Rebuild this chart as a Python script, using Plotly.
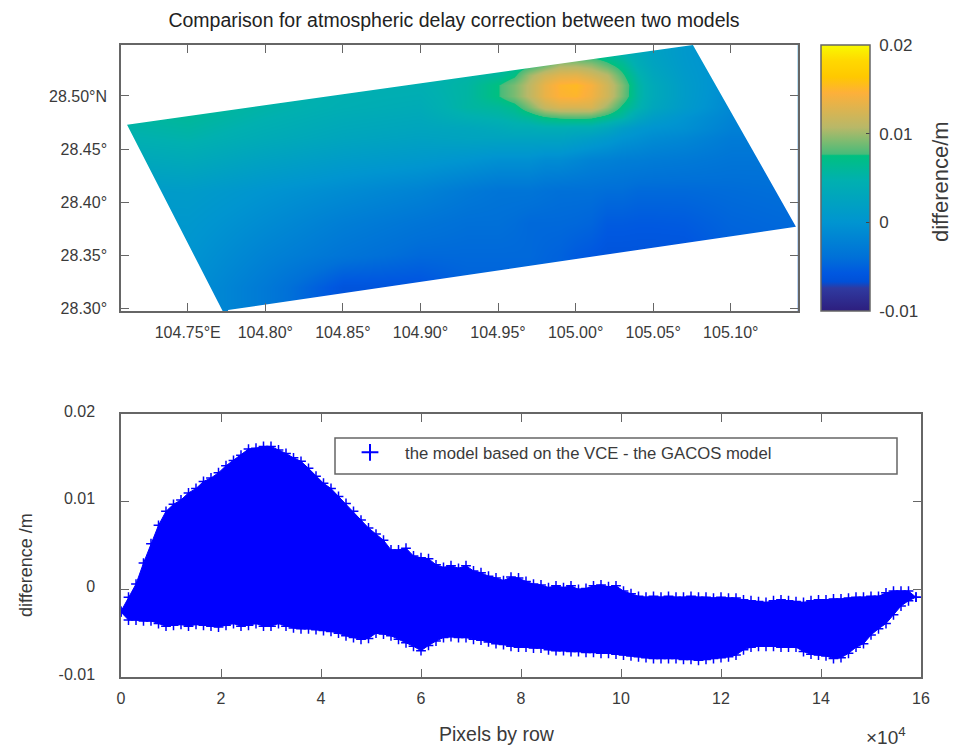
import numpy as np
import plotly.graph_objects as go

W, H = 953, 749

# ---- top panel: gridded difference (mm) ----
lon_grid = [104.70, 104.75, 104.80, 104.85, 104.90,
            104.93, 104.95, 104.96, 104.97, 104.98, 104.99, 105.00, 105.01, 105.02, 105.03, 105.04, 105.05, 105.07,
            105.10, 105.15]
lat_grid = [28.29, 28.32, 28.35, 28.38, 28.41, 28.44, 28.46, 28.47, 28.48, 28.49, 28.50, 28.51, 28.52, 28.53, 28.54, 28.55]
diff_mm = [
    [-0.5, -0.5, -3.0, -6.5, -6.5, -6.0, -6.0, -6.0, -6.0, -6.0, -6.0, -6.0, -6.0, -6.0, -6.0, -6.0, -6.0, -6.0, -6.0, -6.0],
    [-0.5, -0.5, -3.0, -6.2, -6.2, -5.0, -5.0, -5.0, -5.0, -5.0, -5.0, -5.0, -5.0, -5.0, -5.0, -5.0, -5.0, -5.0, -5.0, -5.0],
    [0.0, 0.0, -2.0, -3.5, -4.5, -4.5, -4.5, -4.5, -4.5, -4.8, -5.0, -5.5, -5.8, -6.2, -6.2, -6.2, -6.2, -6.2, -5.2, -4.8],
    [0.5, 0.5, -1.0, -2.5, -3.5, -4.0, -4.0, -4.2, -4.5, -4.5, -4.5, -4.6, -4.8, -5.5, -5.5, -5.6, -5.6, -5.5, -4.8, -4.4],
    [1.0, 1.2, 0.0, -1.0, -2.0, -3.0, -3.5, -3.5, -3.5, -3.8, -4.0, -4.0, -4.0, -4.2, -4.2, -4.5, -4.5, -4.5, -4.3, -4.0],
    [3.0, 3.5, 2.2, 1.2, 0.6, 0.0, -0.5, -0.5, -0.5, -1.0, -1.0, -1.5, -2.0, -2.2, -2.5, -2.6, -2.8, -3.0, -3.5, -3.5],
    [4.5, 5.0, 3.8, 2.8, 2.2, 2.5, 2.5, 2.5, 2.5, 2.5, 2.5, 2.0, 1.5, 0.8, 0.0, -0.5, -1.0, -1.5, -2.8, -2.8],
    [5.0, 5.5, 4.3, 3.3, 2.8, 3.0, 3.5, 4.0, 4.0, 4.2, 4.2, 4.0, 4.0, 3.0, 1.5, 0.5, 0.0, -0.5, -2.2, -2.2],
    [5.5, 6.0, 4.8, 3.8, 3.3, 4.5, 5.0, 5.5, 6.2, 7.5, 8.0, 8.2, 8.0, 6.8, 5.5, 3.0, 1.5, 0.0, -1.8, -1.8],
    [6.0, 6.2, 5.2, 4.3, 3.8, 5.5, 6.0, 6.8, 9.0, 11.5, 12.5, 12.5, 12.5, 10.0, 7.2, 5.0, 3.0, 1.0, -1.4, -1.4],
    [6.0, 6.3, 5.2, 4.5, 4.2, 5.5, 7.5, 9.0, 11.0, 13.5, 14.8, 15.0, 14.0, 12.0, 9.0, 5.5, 3.5, 1.2, -1.2, -1.2],
    [6.0, 6.3, 5.2, 4.5, 4.5, 5.5, 7.5, 9.0, 11.0, 13.5, 15.0, 15.3, 14.3, 12.0, 9.2, 5.5, 3.5, 1.2, -1.0, -1.0],
    [6.0, 6.3, 5.2, 4.5, 4.5, 5.2, 6.0, 7.2, 10.0, 12.0, 13.0, 13.2, 12.2, 10.8, 8.0, 5.0, 3.0, 1.0, -0.8, -0.8],
    [6.0, 6.3, 5.2, 4.5, 4.5, 4.8, 5.2, 6.0, 6.8, 8.3, 10.0, 10.0, 9.5, 8.0, 6.5, 4.0, 2.5, 0.8, -0.8, -0.8],
    [6.0, 6.3, 5.2, 4.5, 4.5, 4.8, 5.0, 5.5, 6.0, 6.5, 6.8, 6.8, 6.5, 6.0, 5.0, 3.5, 2.2, 0.7, -0.8, -0.8],
    [6.0, 6.3, 5.2, 4.5, 4.5, 4.8, 5.0, 5.5, 6.0, 6.5, 6.8, 6.8, 6.5, 6.0, 5.0, 3.5, 2.2, 0.7, -0.8, -0.8],
]
# swath corners (lon, lat): left, top, right, bottom
swath_lon = [104.7109, 105.0756, 105.1420, 104.7760]
swath_lat = [28.4729, 28.5481, 28.3767, 28.2981]

lon_ticks = [104.75, 104.80, 104.85, 104.90, 104.95, 105.00, 105.05, 105.10]
lon_labels = ["104.75°E", "104.80°", "104.85°", "104.90°", "104.95°", "105.00°", "105.05°", "105.10°"]
lat_ticks = [28.30, 28.35, 28.40, 28.45, 28.50]
lat_labels = ["28.30°", "28.35°", "28.40°", "28.45°", "28.50°N"]
cbar_ticks = [-0.01, 0, 0.01, 0.02]
cbar_labels = ["-0.01", "0", "0.01", "0.02"]

# ---- bottom panel: envelope of the row-by-row differences ----
row_1e4 = [
    0.00, 0.15, 0.30, 0.45, 0.60, 0.75, 0.90, 1.05, 1.20, 1.35,
    1.50, 1.65, 1.80, 1.95, 2.10, 2.25, 2.40, 2.55, 2.70, 2.85,
    3.00, 3.15, 3.30, 3.45, 3.60, 3.75, 3.90, 4.05, 4.20, 4.35,
    4.50, 4.65, 4.80, 4.95, 5.10, 5.25, 5.40, 5.55, 5.70, 5.85,
    6.00, 6.15, 6.30, 6.45, 6.60, 6.75, 6.90, 7.05, 7.20, 7.35,
    7.50, 7.65, 7.80, 7.95, 8.10, 8.25, 8.40, 8.55, 8.70, 8.85,
    9.00, 9.15, 9.30, 9.45, 9.60, 9.75, 9.90, 10.05, 10.20, 10.35,
    10.50, 10.65, 10.80, 10.95, 11.10, 11.25, 11.40, 11.55, 11.70, 11.85,
    12.00, 12.15, 12.30, 12.45, 12.60, 12.75, 12.90, 13.05, 13.20, 13.35,
    13.50, 13.65, 13.80, 13.95, 14.10, 14.25, 14.40, 14.55, 14.70, 14.85,
    15.00, 15.15, 15.30, 15.45, 15.60, 15.75, 15.90,
]
upper_mm = [
    -2.5, -0.9, 0.6, 3.0, 5.2, 7.3, 8.9, 9.7, 10.2, 11.0,
    11.5, 12.3, 12.7, 13.3, 14.1, 14.7, 15.3, 16.0, 16.1, 16.3,
    16.3, 15.9, 15.5, 15.0, 14.6, 13.8, 12.9, 12.1, 11.5, 10.6,
    9.8, 8.9, 7.9, 7.0, 6.3, 5.6, 4.5, 4.5, 4.7, 3.8,
    3.6, 3.5, 2.8, 2.5, 2.7, 2.4, 2.7, 2.1, 1.9, 1.5,
    1.3, 1.0, 1.4, 1.3, 0.9, 0.6, 0.5, 0.2, 0.4, 0.2,
    0.4, 0.0, 0.1, 0.4, 0.5, 0.3, 0.4, -0.2, -0.5, -0.8,
    -0.9, -0.8, -0.9, -0.8, -0.9, -0.9, -0.8, -0.9, -0.9, -1.0,
    -0.9, -1.0, -1.0, -1.2, -1.3, -1.4, -1.5, -1.3, -1.2, -1.3,
    -1.4, -1.5, -1.3, -1.2, -1.2, -1.1, -1.1, -1.0, -0.9, -0.9,
    -0.8, -0.8, -0.4, -0.2, -0.2, -0.2, -0.9,
]
lower_mm = [
    -2.6, -3.5, -3.5, -3.6, -3.6, -3.9, -4.2, -4.1, -4.0, -4.2,
    -4.0, -4.1, -4.2, -4.3, -4.1, -3.9, -4.2, -4.1, -3.9, -4.2,
    -4.2, -3.9, -4.2, -4.4, -4.5, -4.5, -4.6, -4.7, -4.8, -5.0,
    -5.3, -5.5, -5.7, -5.6, -5.0, -5.1, -5.3, -5.7, -6.1, -6.5,
    -7.0, -6.4, -5.9, -5.5, -5.4, -5.5, -5.5, -5.7, -5.8, -6.0,
    -6.2, -6.3, -6.5, -6.6, -6.6, -6.7, -6.7, -6.9, -7.0, -7.0,
    -7.1, -7.1, -7.2, -7.2, -7.3, -7.3, -7.4, -7.5, -7.6, -7.7,
    -7.8, -7.9, -7.9, -7.9, -7.9, -8.0, -8.0, -8.1, -8.0, -7.9,
    -7.8, -7.7, -7.5, -6.9, -6.6, -6.5, -6.5, -6.5, -6.6, -6.6,
    -6.6, -7.1, -7.4, -7.5, -7.6, -7.9, -7.8, -7.3, -6.6, -6.2,
    -5.2, -4.5, -3.9, -2.9, -1.9, -1.3, -0.9,
]
row_ticks = [0, 2, 4, 6, 8, 10, 12, 14, 16]
row_labels = ["0", "2", "4", "6", "8", "10", "12", "14", "16"]
diff_ticks = [-0.01, 0, 0.01, 0.02]
diff_labels = ["-0.01", "0", "0.01", "0.02"]

LEGEND_NAME = "the model based on the VCE - the GACOS model"

COLORSCALE = [
    [0.00, "#2d1e7e"], [0.086, "#2f3aa0"], [0.11, "#0050d8"], [0.143, "#0058e0"],
    [0.20, "#0070d8"], [0.335, "#0095d0"], [0.49, "#00b0b0"], [0.584, "#00c080"],
    [0.59, "#48bb7a"], [0.64, "#80bb70"], [0.69, "#b8b868"], [0.82, "#fdb03a"],
    [0.88, "#ffc800"], [0.94, "#ffd800"], [1.00, "#f8fa00"],
]
FRAME = "#666666"
TEXT = "#3a3a3a"
FONT = "Liberation Sans"

def xdom(a, b):
    return [a / W, b / W]
def ydom(top, bot):
    return [1 - bot / H, 1 - top / H]

XMIN, XMAX, YMIN, YMAX = 104.7070, 105.1430, 28.2972, 28.5481
lft, top, rgt, bot = list(zip(swath_lon, swath_lat))

mask_x = [XMIN - .01, bot[0], lft[0], top[0], top[0], XMIN - .01, XMIN - .01, None,
          XMAX + .01, top[0], top[0], rgt[0], bot[0], bot[0], XMAX + .01, XMAX + .01]
mask_y = [YMIN - .01, YMIN - .01, lft[1], top[1], YMAX + .01, YMAX + .01, YMIN - .01, None,
          YMAX + .01, YMAX + .01, top[1], rgt[1], bot[1], YMIN - .01, YMIN - .01, YMAX + .01]

fig = go.Figure()
fig.add_trace(go.Heatmap(
    x=lon_grid, y=lat_grid, z=np.array(diff_mm) / 1000,
    zmin=-0.01, zmax=0.02, zsmooth="best", colorscale=COLORSCALE,
    xaxis="x", yaxis="y", hovertemplate="%{z:.4f} m<extra></extra>",
    colorbar=dict(
        x=821 / W, xanchor="left", xpad=0, ypad=0, thickness=49, thicknessmode="pixels",
        y=1 - 45 / H, yanchor="top", len=266 / H, lenmode="fraction",
        tickmode="array", tickvals=cbar_ticks, ticktext=["\u00a0" + t for t in cbar_labels],
        ticks="inside", ticklen=4, tickcolor="#444444", outlinecolor=FRAME, outlinewidth=1.5,
        tickfont=dict(family=FONT, size=17, color=TEXT),
    ),
))
fig.add_trace(go.Scatter(
    x=mask_x, y=mask_y, mode="lines", fill="toself", fillcolor="white",
    line=dict(width=0, color="white"), hoverinfo="skip", showlegend=False,
    xaxis="x", yaxis="y",
))

xs = np.array(row_1e4) * 1e4
up = np.array(upper_mm) / 1000
lo = np.array(lower_mm) / 1000
fig.add_trace(go.Scatter(
    x=np.concatenate([xs, xs[::-1]]), y=np.concatenate([up, lo[::-1]]),
    mode="lines", fill="toself", fillcolor="#0000ff", line=dict(color="#0000ff", width=1),
    hoverinfo="skip", showlegend=False, xaxis="x2", yaxis="y2",
))
fig.add_trace(go.Scatter(
    x=np.concatenate([xs, xs]), y=np.concatenate([up, lo]),
    mode="markers", name=LEGEND_NAME,
    marker=dict(symbol="cross-thin", size=7, color="#0000ff", line=dict(color="#0000ff", width=1.5)),
    xaxis="x2", yaxis="y2",
))

axis_common = dict(
    showgrid=False, zeroline=False, showline=True, linecolor=FRAME, linewidth=1.5,
    mirror="ticks", ticks="inside", ticklen=8, tickcolor=FRAME, tickwidth=1,
    automargin=False,
)
def tf(size):
    return dict(family=FONT, size=size, color=TEXT)

fig.update_layout(
    width=W, height=H, margin=dict(l=0, r=0, t=0, b=0, pad=0),
    paper_bgcolor="white", plot_bgcolor="white",
    font=dict(family=FONT, color=TEXT),
    title=dict(text="Comparison for atmospheric delay correction between two models",
               x=454 / W, xanchor="center", y=1 - 20 / H, yanchor="middle",
               font=dict(family=FONT, size=19.5, color="#222222")),
    xaxis=dict(domain=xdom(121, 797.5), range=[XMIN, XMAX], tickmode="array",
               tickvals=lon_ticks, ticktext=lon_labels, anchor="y", tickfont=tf(16),
               ticklabelstandoff=6, **axis_common),
    yaxis=dict(domain=ydom(45, 311), range=[YMIN, YMAX], tickmode="array",
               tickvals=lat_ticks, ticktext=lat_labels, anchor="x", tickfont=tf(16),
               ticklabelstandoff=9, **axis_common),
    xaxis2=dict(domain=xdom(121, 921), range=[0, 160000], tickmode="array",
                tickvals=[t * 1e4 for t in row_ticks], ticktext=row_labels, anchor="y2",
                tickfont=tf(16), ticklabelstandoff=6, **axis_common),
    yaxis2=dict(domain=ydom(414, 677), range=[-0.01, 0.02], tickmode="array",
                tickvals=diff_ticks, ticktext=diff_labels, anchor="x2",
                tickfont=tf(16), ticklabelstandoff=21, ticklabelshift=-3, **axis_common),
    showlegend=True,
    legend=dict(x=335 / W, xanchor="left", y=1 - 435 / H, yanchor="top",
                bgcolor="rgba(0,0,0,0)", borderwidth=0, itemsizing="constant", itemwidth=60,
                font=tf(16.7)),
    shapes=[dict(type="rect", xref="paper", yref="paper",
                 x0=335 / W, x1=897 / W, y0=1 - 474 / H, y1=1 - 438 / H,
                 line=dict(color=FRAME, width=1.5), fillcolor="rgba(0,0,0,0)")],
    annotations=[
        dict(text="×10<sup>4</sup>", xref="paper", yref="paper", x=908 / W, y=1 - 736 / H,
             xanchor="right", yanchor="middle", showarrow=False, font=tf(19)),
        dict(text="difference/m", xref="paper", yref="paper", x=940 / W, y=1 - 182 / H,
             xanchor="center", yanchor="middle", textangle=-90, showarrow=False, font=tf(22)),
        dict(text="difference /m", xref="paper", yref="paper", x=26 / W, y=1 - 565 / H,
             xanchor="center", yanchor="middle", textangle=-90, showarrow=False, font=tf(18)),
        dict(text="Pixels by row", xref="paper", yref="paper", x=497 / W, y=1 - 734 / H,
             xanchor="center", yanchor="middle", showarrow=False, font=tf(19.5)),
    ],
)
fig.write_html("out.html", config=dict(displayModeBar=False),
               post_script="document.body.style.margin='0';")
